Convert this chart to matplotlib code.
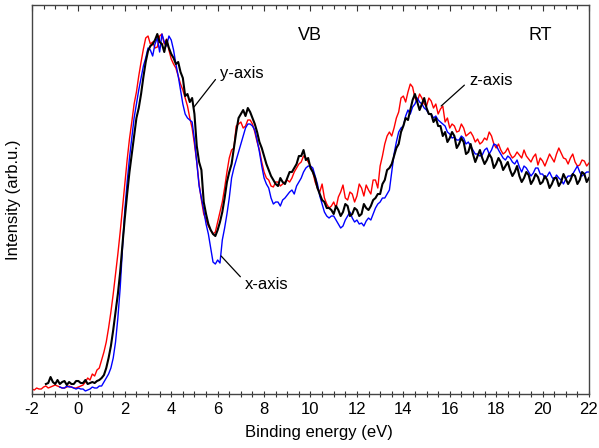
import numpy as np
import matplotlib.pyplot as plt
from matplotlib.ticker import MultipleLocator

plt.rcParams['font.family'] = ['Liberation Sans', 'DejaVu Sans']
plt.rcParams['axes.unicode_minus'] = False

# z-axis spectrum (red), -2.0 ... 22.0 eV in 0.1 eV steps
i_red = [5, 4, 6, 5, 5, 7, 8, 6, 7, 8,
         9, 8, 7, 6, 6, 7, 8, 7, 6, 6,
         7, 8, 9, 12, 16, 14, 20, 18, 24, 26,
         34, 42, 52, 66, 82, 100, 120, 140, 162, 186,
         210, 234, 255, 272, 290, 302, 318, 332, 345, 356,
         358, 350, 352, 346, 347, 358, 360, 350, 355, 344,
         335, 330, 326, 318, 310, 304, 296, 288, 276, 266,
         250, 232, 210, 194, 180, 174, 168, 164, 160, 162,
         172, 182, 192, 206, 222, 236, 244, 246, 268, 270,
         272, 266, 268, 274, 274, 270, 262, 252, 244, 232,
         222, 216, 214, 208, 207, 212, 212, 208, 210, 212,
         214, 212, 216, 222, 226, 230, 232, 238, 236, 232,
         228, 222, 212, 206, 202, 210, 196, 190, 186, 188,
         192, 186, 197, 202, 209, 196, 194, 202, 200, 192,
         198, 210, 206, 198, 209, 204, 200, 214, 214, 206,
         228, 238, 250, 258, 262, 258, 266, 276, 282, 296,
         298, 292, 302, 310, 307, 296, 292, 300, 296, 290,
         288, 296, 293, 286, 290, 280, 285, 288, 272, 276,
         266, 270, 268, 262, 263, 270, 266, 258, 260, 262,
         258, 252, 255, 250, 252, 256, 254, 262, 258, 250,
         246, 250, 244, 240, 242, 246, 240, 236, 238, 242,
         239, 236, 244, 238, 235, 232, 237, 240, 229, 236,
         233, 228, 234, 240, 236, 232, 240, 246, 241, 236,
         235, 230, 236, 240, 232, 228, 229, 234, 233, 228,
         231]

# y-axis spectrum (black), -1.4 ... 22.0 eV
i_black = [10, 11, 17, 12, 10, 14, 10, 12, 13, 9,
           12, 10, 10, 13, 13, 11, 11, 14, 10, 11,
           12, 11, 13, 14, 16, 19, 26, 36, 48, 64,
           82, 100, 122, 150, 176, 200, 222, 240, 258, 276,
           286, 300, 317, 332, 343, 348, 350, 354, 360, 352,
           350, 342, 354, 346, 340, 336, 330, 332, 322, 316,
           298, 300, 292, 296, 280, 248, 232, 224, 192, 180,
           170, 164, 160, 158, 164, 172, 182, 196, 212, 222,
           230, 246, 262, 276, 280, 284, 278, 286, 282, 276,
           270, 262, 252, 246, 238, 230, 224, 218, 214, 210,
           208, 216, 212, 210, 216, 222, 222, 226, 230, 238,
           238, 244, 234, 236, 226, 222, 216, 206, 200, 194,
           192, 186, 186, 184, 180, 188, 184, 178, 182, 190,
           188, 178, 180, 186, 184, 178, 180, 190, 186, 184,
           188, 194, 196, 200, 200, 210, 214, 224, 226, 230,
           238, 246, 250, 262, 268, 276, 274, 284, 294, 300,
           292, 284, 290, 296, 286, 280, 280, 272, 276, 268,
           268, 258, 262, 252, 256, 262, 258, 246, 250, 256,
           252, 240, 242, 250, 240, 232, 238, 244, 236, 230,
           234, 240, 236, 226, 230, 236, 232, 224, 228, 232,
           224, 218, 222, 228, 218, 212, 216, 222, 219, 210,
           214, 220, 217, 210, 212, 218, 214, 206, 210, 216,
           216, 208, 212, 220, 215, 210, 214, 220, 218, 210,
           214, 222, 220, 212, 216]

# x-axis spectrum (blue), -0.8 ... 22.0 eV
i_blue = [7, 6, 6, 8, 7, 7, 6, 5, 6, 5,
          5, 3, 4, 5, 7, 6, 6, 8, 8, 12,
          16, 20, 26, 36, 52, 76, 106, 146, 184, 212,
          236, 256, 276, 290, 304, 316, 328, 336, 346, 344,
          338, 350, 356, 342, 360, 352, 348, 358, 354, 344,
          330, 318, 304, 290, 280, 276, 274, 272, 254, 232,
          208, 196, 184, 170, 160, 146, 132, 130, 134, 131,
          154, 166, 180, 196, 216, 226, 234, 242, 250, 258,
          266, 270, 270, 268, 264, 254, 242, 228, 216, 210,
          206, 196, 190, 192, 192, 188, 194, 196, 199, 202,
          204, 200, 208, 212, 216, 222, 226, 228, 228, 226,
          218, 210, 198, 190, 182, 178, 176, 178, 178, 174,
          170, 166, 168, 174, 178, 182, 176, 172, 174, 170,
          171, 168, 173, 176, 174, 180, 186, 190, 192, 196,
          196, 200, 204, 222, 240, 252, 262, 266, 268, 278,
          284, 280, 287, 290, 296, 292, 290, 286, 284, 280,
          280, 276, 278, 274, 272, 270, 268, 262, 260, 256,
          257, 254, 254, 258, 256, 250, 252, 248, 244, 240,
          240, 238, 239, 244, 246, 240, 244, 250, 249, 244,
          240, 236, 234, 238, 236, 232, 230, 234, 227, 222,
          228, 226, 222, 218, 221, 226, 226, 220, 220, 216,
          218, 222, 217, 214, 219, 216, 214, 210, 215, 218,
          218, 220, 224, 228, 222, 218, 220, 222, 222]

e_red = np.linspace(-2.0, 22.0, len(i_red))
e_black = np.linspace(-1.4, 22.0, len(i_black))
e_blue = np.linspace(-0.8, 22.0, len(i_blue))

fig = plt.figure(figsize=(5.99, 4.48), dpi=100)
ax = fig.add_axes([0.0534, 0.1205, 0.9299, 0.8683])

ax.plot(e_red, i_red, color='#ff0000', lw=1.0, zorder=2)
ax.plot(e_blue, i_blue, color='#0000ff', lw=1.0, zorder=3)
ax.plot(e_black, i_black, color='black', lw=1.5, zorder=4)

ax.set_xlim(-2, 22)
ax.set_ylim(0, 389)
ax.set_yticks([])
ax.xaxis.set_major_locator(MultipleLocator(2))
ax.xaxis.set_minor_locator(MultipleLocator(0.5))
ax.tick_params(axis='x', which='major', direction='inout', length=5, width=0.8,
               labelsize=12, colors='#333333', labelcolor='black', pad=3)
ax.tick_params(axis='x', which='minor', direction='inout', length=4, width=0.8,
               colors='#333333')
for s in ax.spines.values():
    s.set_color('#444444')
    s.set_linewidth(1.0)

top = ax.secondary_xaxis('top')
top.xaxis.set_major_locator(MultipleLocator(2))
top.xaxis.set_minor_locator(MultipleLocator(0.5))
top.tick_params(which='major', direction='in', length=4, width=0.8, labeltop=False,
                colors='#333333')
top.tick_params(which='minor', direction='in', length=3, width=0.8, colors='#333333')
top.spines['top'].set_visible(False)

ax.set_xlabel('Binding energy (eV)', fontsize=12)
ax.xaxis.set_label_coords(0.515, -0.080)
ax.set_ylabel('Intensity (arb.u.)', fontsize=12, labelpad=8)

ax.text(9.98, 359, 'VB', fontsize=13, ha='center', va='center')
ax.text(19.9, 359, 'RT', fontsize=13, ha='center', va='center')

arrow = dict(arrowstyle='-', color='black', lw=0.9, shrinkA=2, shrinkB=0)
ax.annotate('y-axis', xy=(4.98, 287), xytext=(6.1, 321), fontsize=12,
            ha='left', va='center', arrowprops=dict(arrow, relpos=(0, 0.45)))
ax.annotate('z-axis', xy=(15.63, 288), xytext=(16.84, 314), fontsize=12,
            ha='left', va='center', arrowprops=dict(arrow, relpos=(0, 0.45)))
ax.annotate('x-axis', xy=(6.15, 138), xytext=(7.18, 110), fontsize=12,
            ha='left', va='center', arrowprops=dict(arrow, relpos=(0, 0.65)))

fig.savefig('out.png', dpi=100)
